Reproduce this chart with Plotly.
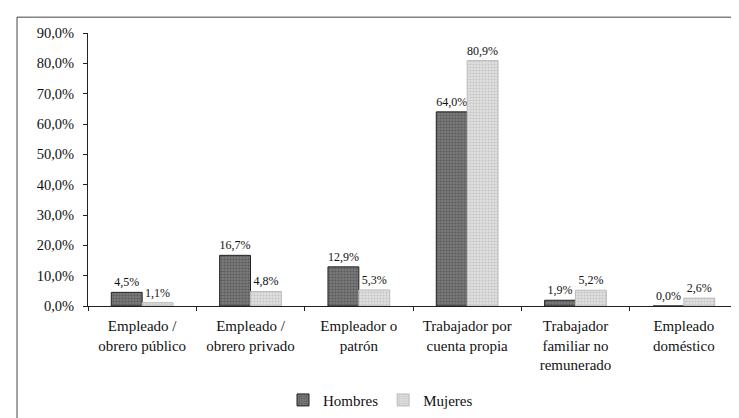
import plotly.graph_objects as go

categories = [
    "Empleado /<br>obrero público",
    "Empleado /<br>obrero privado",
    "Empleador o<br>patrón",
    "Trabajador por<br>cuenta propia",
    "Trabajador<br>familiar no<br>remunerado",
    "Empleado<br>doméstico",
]
hombres = [4.5, 16.7, 12.9, 64.0, 1.9, 0.0]
mujeres = [1.1, 4.8, 5.3, 80.9, 5.2, 2.6]
y_ticks = [0, 10, 20, 30, 40, 50, 60, 70, 80, 90]
y_tick_labels = ["0,0%", "10,0%", "20,0%", "30,0%", "40,0%", "50,0%",
                 "60,0%", "70,0%", "80,0%", "90,0%"]

font_family = "Liberation Serif, DejaVu Serif"

fig = go.Figure()
fig.add_trace(go.Bar(
    name="Hombres", x=categories, y=hombres,
    text=[f"{v:.1f}%".replace(".", ",") for v in hombres],
    textposition="outside", cliponaxis=False, constraintext="none",
    textfont=dict(size=12, color="#111", family=font_family),
    marker=dict(color="#6b6b6b", line=dict(color="#222", width=1),
                pattern=dict(shape=".", fgcolor="#3a3a3a", bgcolor="#7a7a7a", size=3, solidity=0.4)),
))
fig.add_trace(go.Bar(
    name="Mujeres", x=categories, y=mujeres,
    text=[f"{v:.1f}%".replace(".", ",") for v in mujeres],
    textposition="outside", cliponaxis=False, constraintext="none",
    textfont=dict(size=12, color="#111", family=font_family),
    marker=dict(color="#d4d4d4", line=dict(color="#bbb", width=1),
                pattern=dict(shape=".", fgcolor="#a8a8a8", bgcolor="#e0e0e0", size=3, solidity=0.4)),
))

fig.update_layout(
    width=739, height=418,
    margin=dict(l=80, r=9, t=25, b=118),
    paper_bgcolor="white", plot_bgcolor="white",
    barmode="group", bargap=0.43, bargroupgap=0,
    font=dict(family=font_family, size=15, color="#111"),
    showlegend=True,
    legend=dict(orientation="h", x=0.45, xanchor="center", y=-0.345, yanchor="middle",
                font=dict(size=15, family=font_family), itemwidth=30,
                tracegroupgap=0),
    shapes=[
        dict(type="line", xref="paper", yref="paper", x0=-0.1092, x1=1.02, y0=1.058, y1=1.058,
             line=dict(color="#444", width=1)),
        dict(type="line", xref="paper", yref="paper", x0=-0.1092, x1=-0.1092, y0=1.058, y1=-0.43,
             line=dict(color="#444", width=1)),
    ],
)
fig.update_yaxes(range=[0, 90], tickvals=y_ticks, ticktext=y_tick_labels,
                 showgrid=False, zeroline=False, showline=True, linecolor="#222", linewidth=1,
                 ticks="outside", ticklen=4, tickcolor="#222", ticklabelstandoff=6,
                 tickfont=dict(size=14.5, family=font_family))
fig.update_xaxes(showgrid=False, showline=True, linecolor="#222", linewidth=1,
                 ticks="outside", tickson="boundaries", ticklen=4, tickcolor="#222",
                 ticklabelstandoff=6,
                 tickfont=dict(size=15, family=font_family), tickangle=0)

fig.write_html("out.html")
